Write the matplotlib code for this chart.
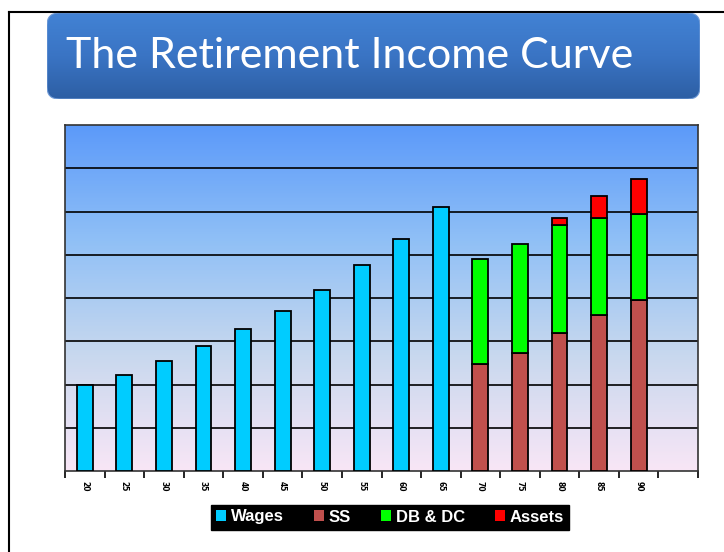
import numpy as np
import matplotlib
matplotlib.use('Agg')
import matplotlib.pyplot as plt
from matplotlib.colors import LinearSegmentedColormap
from matplotlib.patches import FancyBboxPatch, Patch
from matplotlib.lines import Line2D

ages = ['20', '25', '30', '35', '40', '45', '50', '55', '60', '65', '70', '75', '80', '85', '90']
wages = [2.0, 2.23, 2.55, 2.89, 3.28, 3.70, 4.19, 4.76, 5.36, 6.11, 0, 0, 0, 0, 0]
ss = [0, 0, 0, 0, 0, 0, 0, 0, 0, 0, 2.48, 2.72, 3.19, 3.60, 3.95]
db_dc = [0, 0, 0, 0, 0, 0, 0, 0, 0, 0, 2.42, 2.52, 2.50, 2.24, 2.00]
assets = [0, 0, 0, 0, 0, 0, 0, 0, 0, 0, 0, 0, 0.15, 0.52, 0.79]

W, H = 724, 552
fig = plt.figure(figsize=(W / 100, H / 100), dpi=100)
fig.patch.set_facecolor('white')

# outer frame (left + top only)
fig.add_artist(Line2D([9 / W, 9 / W], [0, 1 - 12 / H], transform=fig.transFigure, color='black', lw=1.5))
fig.add_artist(Line2D([9 / W, 1], [1 - 12 / H, 1 - 12 / H], transform=fig.transFigure, color='black', lw=1.5))

# title box
tw, th = 653, 86
tax = fig.add_axes([47 / W, 1 - 99 / H, tw / W, th / H])
tax.set_xlim(0, tw)
tax.set_ylim(0, th)
tax.axis('off')
box = FancyBboxPatch((0, 0), tw, th, boxstyle='round,pad=0,rounding_size=12',
                     facecolor='none', edgecolor='#6f9ad6', lw=0.8)
tax.add_patch(box)
tcmap = LinearSegmentedColormap.from_list('t', ['#2d5fa4', '#3a74c4', '#4282d4'])
g = tax.imshow(np.linspace(0, 1, 100).reshape(-1, 1), cmap=tcmap, origin='lower',
               extent=(0, tw, 0, th), aspect='auto', zorder=0)
g.set_clip_path(box)
tax.text(19, 43, 'The Retirement Income Curve', color='white', fontsize=31,
         family='Lato', va='center', ha='left')

# main chart
ax = fig.add_axes([65 / W, 1 - 471 / H, 633 / W, 346 / H])
n = 16
ax.set_xlim(-0.5, n - 0.5)
ax.set_ylim(0, 8)
bcmap = LinearSegmentedColormap.from_list('b', ['#f8e6f6', '#c8d8ee', '#90c0f6', '#5c9afa'])
ax.imshow(np.linspace(0, 1, 200).reshape(-1, 1), cmap=bcmap, origin='lower',
          extent=(-0.5, n - 0.5, 0, 8), aspect='auto', zorder=0)
for y in range(1, 8):
    ax.axhline(y, color='black', lw=1.2, zorder=1)

x = np.arange(len(ages))
bw = 0.4
kw = dict(width=bw, edgecolor='black', linewidth=1.3, zorder=3)
ax.bar(x[:10], wages[:10], color='#00ccff', **kw)
ax.bar(x[10:], ss[10:], color='#c0504d', **kw)
ax.bar(x[10:], db_dc[10:], bottom=ss[10:], color='#00ff00', **kw)
base = np.array(ss) + np.array(db_dc)
ax.bar(x[12:], assets[12:], bottom=base[12:], color='#ff0000', **kw)

ax.set_yticks([])
ax.set_xticks(x)
ax.set_xticklabels(ages, rotation=270, fontsize=5.5, fontweight='bold')
ax.tick_params(axis='x', which='major', length=0, pad=7)
ax.set_xticks(np.arange(-0.5, n, 1), minor=True)
ax.tick_params(axis='x', which='minor', length=5, width=1.2, direction='out')
for s in ax.spines.values():
    s.set_color('#333333')
    s.set_linewidth(1.2)

handles = [Patch(facecolor='#00ccff', label='Wages'),
           Patch(facecolor='#c0504d', label='SS'),
           Patch(facecolor='#00ff00', label='DB & DC'),
           Patch(facecolor='#ff0000', label='Assets')]
leg = fig.legend(handles=handles, ncol=4, loc='center', bbox_to_anchor=(390 / W, 1 - 517 / H),
                 frameon=True, facecolor='black', edgecolor='black', fancybox=False,
                 handlelength=0.6, handleheight=0.6, handletextpad=0.3, columnspacing=1.8,
                 prop={'family': 'Liberation Sans', 'weight': 'bold', 'size': 12},
                 borderpad=0.3, framealpha=1)
for t in leg.get_texts():
    t.set_color('white')

fig.savefig('out.png', dpi=100)
